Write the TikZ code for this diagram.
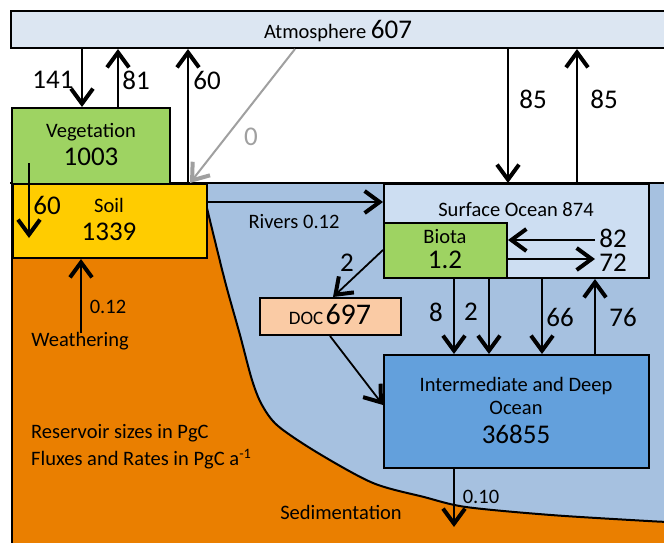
\documentclass[tikz,border=0pt]{standalone}
\usepackage{fontspec}
\setmainfont{Carlito}
\usetikzlibrary{arrows.meta}
\definecolor{atmfill}{RGB}{220,230,242}
\definecolor{vegfill}{RGB}{158,211,98}
\definecolor{soilfill}{RGB}{255,204,0}
\definecolor{surffill}{RGB}{205,222,242}
\definecolor{docfill}{RGB}{250,203,165}
\definecolor{deepfill}{RGB}{99,160,220}
\definecolor{oceanfill}{RGB}{166,193,224}
\definecolor{landfill}{RGB}{234,127,0}
\definecolor{zerogray}{RGB}{160,160,160}
\newcommand\txtf{\fontsize{20.5}{25}\selectfont}
\newcommand\numf{\fontsize{27}{29}\selectfont}
\tikzset{
  box/.style={draw=black, line width=2pt, inner sep=0pt, anchor=north west},
  arr/.style={line width=1.8pt, -{Straight Barb[length=15pt,width=22pt,line width=4pt]}},
  lbl/.style={inner sep=0pt, font=\numf},
  tlbl/.style={inner sep=0pt, font=\txtf},
}
\begin{document}
\begin{tikzpicture}[x=1pt,y=-1pt]
\useasboundingbox (0,0) rectangle (664,542);
\fill[white] (0,0) rectangle (664,542);
% ocean and land
\fill[oceanfill] (206,183) rectangle (670,545);
\fill[landfill] (12,183) -- (206,183) -- plot[smooth,tension=0.5] coordinates {(206,204) (214,237) (226,285) (240,335) (252,380) (262,405) (278,426) (318,453) (373,483) (424,497) (466,507) (551,515) (648,521) (670,522)} -- (670,545) -- (12,545) -- cycle;
\draw[line width=2pt] plot[smooth,tension=0.5] coordinates {(206,204) (214,237) (226,285) (240,335) (252,380) (262,405) (278,426) (318,453) (373,483) (424,497) (466,507) (551,515) (648,521) (670,522)};
\draw[line width=2pt] (10,183) -- (670,183);
\draw[line width=2pt] (12,183) -- (12,545);

% boxes
\node[box, fill=atmfill, minimum width=670pt, minimum height=37pt] (atm) at (10,10) {};
\node[box, fill=vegfill, minimum width=158pt, minimum height=76pt] (veg) at (11,107) {};
\node[box, fill=soilfill, minimum width=194pt, minimum height=74pt] (soil) at (12,183) {};
\node[box, fill=surffill, minimum width=265pt, minimum height=94pt] (surf) at (383,183) {};
\node[box, fill=vegfill, minimum width=123pt, minimum height=55pt] (biota) at (383,222) {};
\node[box, fill=docfill, minimum width=141pt, minimum height=37pt] (doc) at (259,297) {};
\node[box, fill=deepfill, minimum width=265pt, minimum height=113pt] (deep) at (383,354) {};

% box texts
\node[inner sep=0pt] (atmtext) at (338,31) {\txtf Atmosphere {\numf 607}};
\node[tlbl] (vegname) at (91,132) {Vegetation};
\node[lbl] (vegval) at (91,157) {1003};
\node[tlbl] (soilname) at (109,205) {Soil};
\node[lbl] (soilval) at (109,232) {1339};
\node[tlbl] (surftext) at (516,210) {Surface Ocean 874};
\node[tlbl] (biotaname) at (445,237) {Biota};
\node[lbl] (biotaval) at (445,260) {1.2};
\node[inner sep=0pt] (doctext) at (330,314) {{\fontsize{19}{22}\selectfont DOC} {\fontsize{30}{32}\selectfont 697}};
\node[tlbl] (deepname1) at (516,386) {Intermediate and Deep};
\node[tlbl] (deepname2) at (516,408) {Ocean};
\node[lbl] (deepval) at (516,434) {36855};

% helper coordinates
\coordinate (x141) at (82,0);
\coordinate (x81) at (118,0);
\coordinate (x60) at (188,0);
\coordinate (xzA) at (295,0);
\coordinate (xzB) at (190,0);
\coordinate (x85a) at (508,0);
\coordinate (x85b) at (577,0);
\coordinate (yriv) at (0,202);
\coordinate (xw) at (81,0);
\coordinate (y82) at (0,240);
\coordinate (y72) at (0,259);
\coordinate (y2) at (0,250);
\coordinate (xdoc) at (333,0);
\coordinate (x8) at (454,0);
\coordinate (x2) at (489,0);
\coordinate (x66) at (542,0);
\coordinate (x76) at (595,0);
\coordinate (xdocout) at (330,0);
\coordinate (ydeep) at (0,405);
\coordinate (vegsoilA) at (29,163);
\coordinate (vegsoilB) at (29,238);
\coordinate (weath) at (81,333);
\coordinate (e82) at (595,240);
\coordinate (e72) at (595,259);
\coordinate (sedend) at (454,527);

% arrows
\draw[arr] (atm.south -| x141) -- (veg.north -| x141);
\draw[arr] (veg.north -| x81) -- (atm.south -| x81);
\draw[arr] (soil.north -| x60) -- (atm.south -| x60);
\draw[arr, draw=zerogray, line width=2pt] (atm.south -| xzA) -- (soil.north -| xzB);
\draw[arr] (atm.south -| x85a) -- (surf.north -| x85a);
\draw[arr] (surf.north -| x85b) -- (atm.south -| x85b);
\draw[arr] (vegsoilA) -- (vegsoilB);
\draw[arr] (soil.east |- yriv) -- (surf.west |- yriv);
\draw[arr] (weath) -- (soil.south -| xw);
\draw[arr] (e82) -- (biota.east |- y82);
\draw[arr] (biota.east |- y72) -- (e72);
\draw[arr] (biota.west |- y2) -- (doc.north -| xdoc);
\draw[arr] (biota.south -| x8) -- (deep.north -| x8);
\draw[arr] (biota.south -| x2) -- (deep.north -| x2);
\draw[arr] (surf.south -| x66) -- (deep.north -| x66);
\draw[arr] (deep.north -| x76) -- (surf.south -| x76);
\draw[arr] (doc.south -| xdocout) -- (deep.west |- ydeep);
\draw[arr] (deep.south -| x8) -- (sedend);

% labels
\node[lbl] (l141) at (53,80) {141};
\node[lbl] (l81) at (136,80) {81};
\node[lbl] (l60) at (207,80) {60};
\node[lbl, text=zerogray] (l0) at (251,137) {0};
\node[lbl] (l85a) at (533,99) {85};
\node[lbl] (l85b) at (604,99) {85};
\node[lbl] (l60s) at (47,205) {60};
\node[tlbl] (lriv) at (294,222) {Rivers 0.12};
\node[lbl] (l82) at (613,238) {82};
\node[lbl] (l72) at (613,263) {72};
\node[lbl] (l2a) at (347,263) {2};
\node[lbl] (l8) at (436,312) {8};
\node[lbl] (l2b) at (471,312) {2};
\node[lbl] (l66) at (560,317) {66};
\node[lbl] (l76) at (623,317) {76};
\node[tlbl] (l012) at (108,307) {0.12};
\node[tlbl] (lweath) at (80,341) {Weathering};
\node[tlbl] (l010) at (481,497) {0.10};
\node[tlbl] (lsed) at (341,512) {Sedimentation};
\node[tlbl, anchor=west] (lres) at (31,433) {Reservoir sizes in PgC};
\node[tlbl, anchor=west] (lflux) at (31,459) {Fluxes and Rates in PgC a\textsuperscript{-1}};
\end{tikzpicture}
\end{document}
